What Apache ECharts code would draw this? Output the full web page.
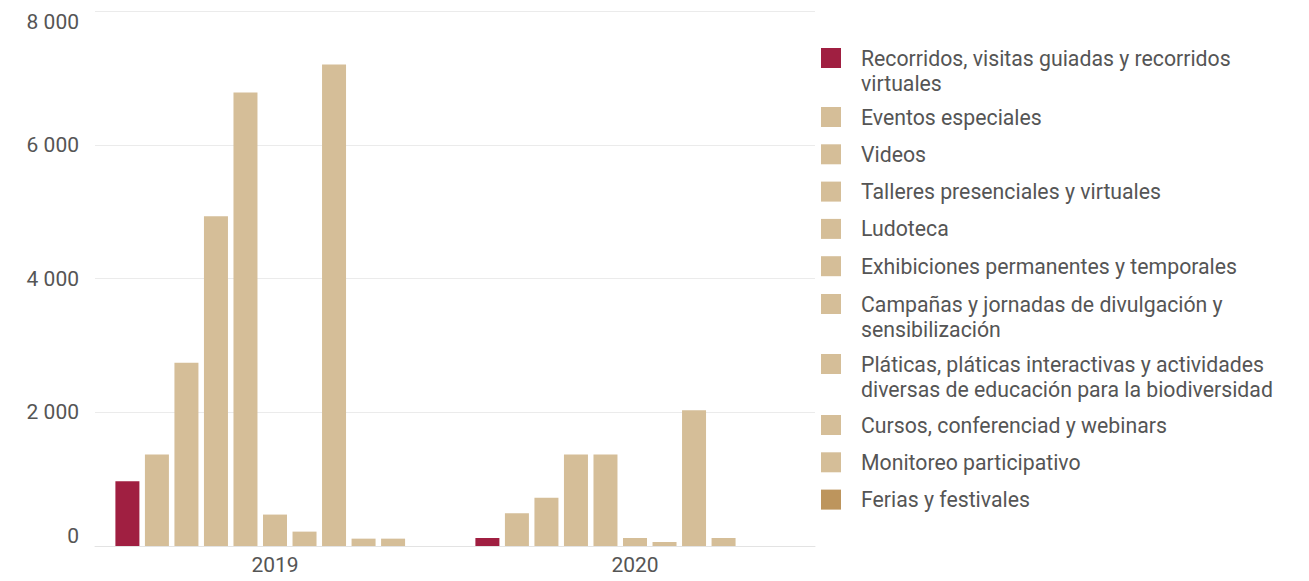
<!DOCTYPE html>
<html>
<head>
<meta charset="utf-8">
<script src="https://cdn.jsdelivr.net/npm/echarts@6/dist/echarts.min.js"></script>
<style>
html,body{margin:0;padding:0;background:#fff;}
#chart{width:1309px;height:581px;}
</style>
</head>
<body>
<div id="chart"></div>
<script>
const categories = ['2019', '2020'];
const seriesNames = [
  'Recorridos, visitas guiadas y recorridos\nvirtuales',
  'Eventos especiales',
  'Videos',
  'Talleres presenciales y virtuales',
  'Ludoteca',
  'Exhibiciones permanentes y temporales',
  'Campañas y jornadas de divulgación y\nsensibilización',
  'Pláticas, pláticas interactivas y actividades\ndiversas de educación para la biodiversidad',
  'Cursos, conferenciad y webinars',
  'Monitoreo participativo',
  'Ferias y festivales'
];
const recorridos = [970, 120];
const eventos = [1370, 490];
const videos = [2740, 720];
const talleres = [4930, 1370];
const ludoteca = [6780, 1370];
const exhibiciones = [470, 120];
const campanas = [215, 60];
const platicas = [7200, 2030];
const cursos = [110, 120];
const monitoreo = [110, null];
const ferias = [null, null];
const yTicks = [0, 2000, 4000, 6000, 8000];

const seriesValues = [recorridos, eventos, videos, talleres, ludoteca, exhibiciones, campanas, platicas, cursos, monitoreo, ferias];
const RED = '#a01f41', TAN = '#d5be98', DARKTAN = '#bd955d';
const colors = seriesNames.map((n, i) => i === 0 ? RED : (i === 10 ? DARKTAN : TAN));

const chart = echarts.init(document.getElementById('chart'), null, {renderer: 'svg'});
const fontFamily = 'Roboto, "Noto Sans", sans-serif';
const TEXT = '#555555';
const FS = 21;
const LEG_FS = 21.25;
const LINE = 26;
const LEG_LEFT = 821;
const STEP = 37.3;

const legendTextStyle = {color: TEXT, fontSize: LEG_FS, lineHeight: LINE, fontFamily: fontFamily, padding: [0, 0, 0, 15]};

function makeLegend(names, iconTop, lineIndex, hideIcon) {
  const l = {
    orient: 'vertical',
    left: LEG_LEFT,
    top: iconTop - 3,
    padding: 0,
    icon: 'rect',
    itemWidth: 20,
    itemHeight: 20,
    itemGap: STEP - LINE,
    selectedMode: false,
    formatter: name => name.split('\n')[lineIndex],
    textStyle: legendTextStyle,
    data: names
  };
  if (hideIcon) l.itemStyle = {color: 'rgba(0,0,0,0)', borderWidth: 0, opacity: 0};
  return l;
}

const legends = [
  makeLegend([seriesNames[0]], 48, 0, false),
  makeLegend([seriesNames[0]], 48 + 25.5, 1, true),
  makeLegend(seriesNames.slice(1, 6), 107, 0, false),
  makeLegend([seriesNames[6]], 294, 0, false),
  makeLegend([seriesNames[6]], 294 + 25.5, 1, true),
  makeLegend([seriesNames[7]], 354, 0, false),
  makeLegend([seriesNames[7]], 354 + 25.5, 1, true),
  makeLegend(seriesNames.slice(8, 11), 415, 0, false)
];

chart.setOption({
  animation: false,
  color: colors,
  textStyle: {fontFamily: fontFamily},
  grid: {left: 95, right: 494, top: 11, bottom: 35, containLabel: false},
  xAxis: {
    type: 'category',
    data: categories,
    axisLine: {show: true, lineStyle: {color: '#e3e3e3', width: 1}},
    axisTick: {show: false},
    axisLabel: {color: TEXT, fontSize: FS, margin: 8, fontFamily: fontFamily}
  },
  yAxis: {
    type: 'value',
    min: yTicks[0],
    max: yTicks[yTicks.length - 1],
    interval: 2000,
    axisLine: {show: false},
    axisTick: {show: false},
    splitLine: {lineStyle: {color: '#ebebeb', width: 1}},
    axisLabel: {
      color: TEXT, fontSize: FS, margin: 16, fontFamily: fontFamily,
      verticalAlignMinLabel: 'bottom',
      verticalAlignMaxLabel: 'top',
      formatter: v => String(v).replace(/\B(?=(\d{3})+(?!\d))/g, ' ')
    }
  },
  legend: legends,
  series: seriesNames.map((n, i) => ({
    name: n,
    type: 'bar',
    data: seriesValues[i],
    barWidth: 24,
    barGap: '23%',
    itemStyle: {color: colors[i]}
  }))
});
</script>
</body>
</html>
